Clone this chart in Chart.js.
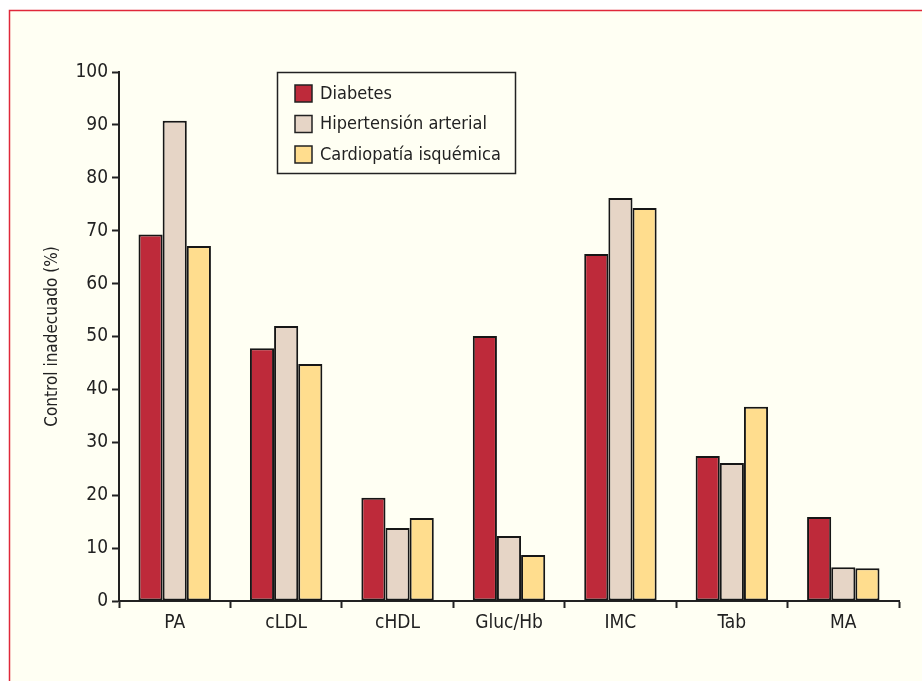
<!DOCTYPE html>
<html>
<head>
<meta charset="utf-8">
<script src="https://cdn.jsdelivr.net/npm/chart.js@4/dist/chart.umd.min.js"></script>
<style>
  html, body { margin: 0; padding: 0; background: #ffffff; }
  #wrap { position: relative; width: 922px; height: 681px; }
</style>
</head>
<body>
<div id="wrap"><canvas id="chart" width="922" height="681"></canvas></div>
<script>
// Données
const categories = ['PA', 'cLDL', 'cHDL', 'Gluc/Hb', 'IMC', 'Tab', 'MA'];
const diabetes = [69.3, 47.8, 19.5, 50.1, 65.6, 27.4, 15.9];
const hipertension = [90.8, 52.0, 13.8, 12.3, 76.2, 26.1, 6.4];
const cardiopatia = [67.1, 44.8, 15.7, 8.7, 74.3, 36.7, 6.2];
const seriesNames = ['Diabetes', 'Hipertensión arterial', 'Cardiopatía isquémica'];
const yTicks = [0, 10, 20, 30, 40, 50, 60, 70, 80, 90, 100];

const FONT = "'Liberation Sans Narrow', 'DejaVu Sans Condensed', 'Arial Narrow', sans-serif";
const colors = ['#be2a3a', '#e6d5c6', '#ffdd8e'];

// Cadre : fond crème et filet rouge en haut et à gauche
const framePlugin = {
    id: 'frame',
    beforeDraw(chart) {
        const ctx = chart.ctx;
        ctx.save();
        ctx.fillStyle = '#ffffff';
        ctx.fillRect(0, 0, chart.width, chart.height);
        ctx.fillStyle = '#fffff3';
        ctx.fillRect(9, 10, chart.width - 9, chart.height - 10);
        ctx.strokeStyle = '#e0283a';
        ctx.lineWidth = 1.5;
        ctx.beginPath();
        ctx.moveTo(9.5, chart.height);
        ctx.lineTo(9.5, 10.5);
        ctx.lineTo(chart.width, 10.5);
        ctx.stroke();
        ctx.restore();
    }
};

// Légende encadrée dans la zone du graphique
const legendBoxPlugin = {
    id: 'legendBox',
    afterDraw(chart) {
        const ctx = chart.ctx;
        const x = 277, y = 72, w = 238, h = 101;
        ctx.save();
        ctx.fillStyle = '#fffff3';
        ctx.fillRect(x, y, w, h);
        ctx.strokeStyle = '#222';
        ctx.lineWidth = 1.5;
        ctx.strokeRect(x + 0.5, y + 0.5, w, h);
        ctx.font = '18px ' + FONT;
        ctx.textBaseline = 'middle';
        chart.data.datasets.forEach((ds, i) => {
            const cy = 93 + i * 30.5;
            ctx.fillStyle = ds.backgroundColor;
            ctx.fillRect(295, cy - 8, 17, 17);
            ctx.strokeStyle = '#222';
            ctx.lineWidth = 1.5;
            ctx.strokeRect(295, cy - 8, 17, 17);
            ctx.fillStyle = '#222';
            ctx.fillText(ds.label, 320, cy + 1);
        });
        ctx.restore();
    }
};

const ctx = document.getElementById('chart').getContext('2d');
new Chart(ctx, {
    type: 'bar',
    data: {
        labels: categories,
        datasets: [diabetes, hipertension, cardiopatia].map((vals, i) => ({
            label: seriesNames[i],
            data: vals,
            backgroundColor: colors[i],
            borderColor: '#161616',
            borderWidth: 2,
            borderSkipped: false,
            categoryPercentage: 0.65,
            barPercentage: 1
        }))
    },
    options: {
        responsive: false,
        animation: false,
        devicePixelRatio: 1,
        layout: { padding: { left: 0, top: 72, right: 23, bottom: 0 } },
        plugins: {
            legend: { display: false },
            tooltip: { enabled: false }
        },
        scales: {
            x: {
                offset: true,
                grid: {
                    offset: true,
                    drawOnChartArea: false,
                    drawTicks: true,
                    tickLength: 7,
                    tickWidth: 2,
                    tickColor: '#222'
                },
                border: { color: '#222', width: 2 },
                ticks: {
                    color: '#222',
                    font: { family: FONT, size: 19 },
                    padding: 4
                },
                afterFit(scale) { scale.height = 80; }
            },
            y: {
                min: 0,
                max: 100,
                afterBuildTicks(scale) {
                    scale.ticks = yTicks.map(v => ({ value: v }));
                },
                grid: {
                    drawOnChartArea: false,
                    drawTicks: true,
                    tickLength: 7,
                    tickWidth: 2,
                    tickColor: '#222'
                },
                border: { color: '#222', width: 2 },
                ticks: {
                    color: '#222',
                    font: { family: FONT, size: 19 },
                    padding: 4
                },
                title: {
                    display: true,
                    text: 'Control inadecuado (%)',
                    color: '#222',
                    font: { family: FONT, size: 17 },
                    padding: { top: 42, bottom: 0 }
                },
                afterFit(scale) { scale.width = 119; }
            }
        }
    },
    plugins: [framePlugin, legendBoxPlugin]
});
</script>
</body>
</html>
